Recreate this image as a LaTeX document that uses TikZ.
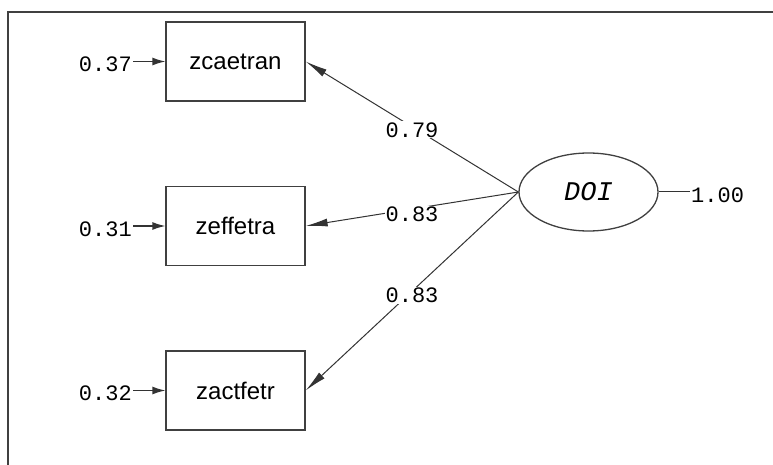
\documentclass[tikz,border=0pt]{standalone}
\usepackage{fontspec}
\setmainfont{Liberation Sans}
\newfontfamily\estfont{Liberation Mono}
\usetikzlibrary{shapes.geometric, arrows.meta}
\tikzset{
	obs/.style={rectangle, draw=black!75, line width=1.3pt, minimum width=139pt, minimum height=79pt, inner sep=0pt, font=\fontsize{24}{24}\selectfont},
	lat/.style={ellipse, draw=black!75, line width=1.3pt, minimum width=139pt, minimum height=78pt, inner sep=0pt, font=\estfont\itshape\fontsize{27}{27}\selectfont},
	est/.style={inner sep=1pt, font=\estfont\fontsize{22}{22}\selectfont},
	arr/.style={-{Latex[length=22pt, width=8pt]}, line width=1pt, draw=black!80},
	errarr/.style={-{Latex[length=13pt, width=8pt]}, line width=1.3pt, draw=black!80}
}

\begin{document}
\begin{tikzpicture}[x=1pt, y=-1pt]
    \useasboundingbox (0,0) rectangle (773,465);
    % frame
    \draw[line width=1.8pt, black!75] (8,465) -- (8,12) -- (773,12);

    \node[obs] (caetran) at (235.5, 61.5) {zcaetran};
    \node[obs] (effetra) at (235.5, 226) {zeffetra};
    \node[obs] (actfetr) at (235.5, 390.5) {zactfetr};
    \node[lat] (doi) at (588.5, 192) {DOI};

    \node[est, anchor=east] (e1) at (133, 64) {0.37};
    \node[est, anchor=east] (e2) at (133, 229) {0.31};
    \node[est, anchor=east] (e3) at (133, 393) {0.32};
    \node[est, anchor=west] (e4) at (690, 195) {1.00};

    \draw[errarr] (e1.east |- caetran) -- (caetran.west);
    \draw[errarr] (e2.east |- effetra) -- (effetra.west);
    \draw[errarr] (e3.east |- actfetr) -- (actfetr.west);
    \draw[line width=1pt, black!80] (doi.east) -- (e4.west |- doi);

    \draw[arr] (doi.west) -- node[est, fill=white, yshift=-3pt] {0.79} (caetran.east);
    \draw[arr] (doi.west) -- node[est, fill=white, yshift=-5pt] {0.83} (effetra.east);
    \draw[arr] (doi.west) -- node[est, fill=white, yshift=-4pt] {0.83} (actfetr.east);
\end{tikzpicture}
\end{document}
